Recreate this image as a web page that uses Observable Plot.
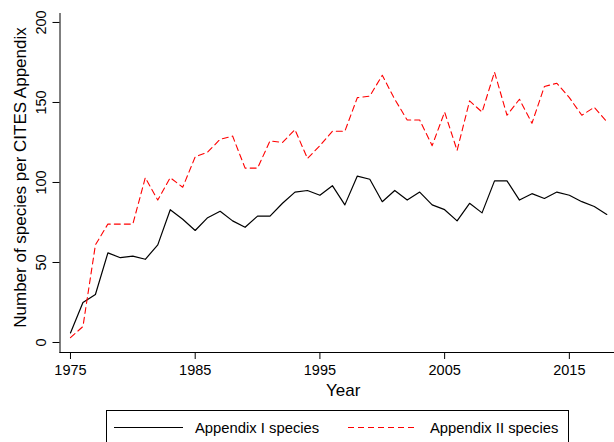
<!DOCTYPE html>
<html><head><meta charset="utf-8">
<script src="https://cdn.jsdelivr.net/npm/d3@7"></script>
<script src="https://cdn.jsdelivr.net/npm/@observablehq/plot@0.6"></script>
<style>
html,body{margin:0;padding:0;overflow:hidden;background:#fff}
#wrap{position:relative;width:614px;height:442px;overflow:hidden;font-family:"Liberation Sans",Arial,sans-serif}
#chart{position:absolute;left:0;top:0}
#legend{position:absolute;left:106px;top:410px;width:463px;height:60px;border:1px solid #000;box-sizing:border-box}
</style></head>
<body><div id="wrap"><div id="chart"></div><div id="legend"></div></div>
<script>
const years = [1975,1976,1977,1978,1979,1980,1981,1982,1983,1984,
  1985,1986,1987,1988,1989,1990,1991,1992,1993,1994,
  1995,1996,1997,1998,1999,2000,2001,2002,2003,2004,
  2005,2006,2007,2008,2009,2010,2011,2012,2013,2014,
  2015,2016,2017,2018];
const appendixI = [6,25,30,56,53,54,52,61,83,77,
  70,78,82,76,72,79,79,87,94,95,
  92,98,86,104,102,88,95,89,94,86,
  83,76,87,81,101,101,89,93,90,94,
  92,88,85,80];
const appendixII = [3,10,61,74,74,74,103,89,103,97,
  116,119,127,129,109,109,126,125,133,115,
  123,132,132,153,154,167,152,139,139,123,
  144,120,151,144,169,142,152,137,160,162,
  153,142,147,138];
const xTicks = [1975,1985,1995,2005,2015];
const yTicks = [0,50,100,150,200];
const xTitle = "Year";
const yTitle = "Number of species per CITES Appendix";
const seriesNames = ["Appendix I species","Appendix II species"];

const rowsI = years.map((y,i)=>({year:y, value:appendixI[i]}));
const rowsII = years.map((y,i)=>({year:y, value:appendixII[i]}));
const font = '"Liberation Sans", Arial, sans-serif';

const chart = Plot.plot({
  width: 614, height: 405,
  marginLeft: 59.5, marginRight: 0, marginTop: 13, marginBottom: 53,
  style: {fontFamily: font, fontSize: "14.5px", background: "transparent", color: "#000", overflow: "visible"},
  x: {domain: [1974.16, 2018.62]},
  y: {domain: [-6.25, 205.6]},
  marks: [
    Plot.frame({anchor: "left", stroke: "#000"}),
    Plot.frame({anchor: "bottom", stroke: "#000"}),
    Plot.axisX(xTicks, {tickSize: 7, tickPadding: 5, label: null, tickFormat: d => String(d), fontSize: 14.5}),
    Plot.axisY(yTicks, {tickSize: 7, label: null, tickFormat: () => ""}),
    Plot.text(yTicks, {y: d => d, frameAnchor: "left", textAnchor: "middle", dx: -18.5, rotate: -90, text: d => String(d), fontSize: 14.5}),
    Plot.text([xTitle], {frameAnchor: "bottom", textAnchor: "middle", dy: 43, dx: 6, text: d => d, fontSize: 17}),
    Plot.text([yTitle], {frameAnchor: "left", textAnchor: "middle", dx: -39.5, dy: -5.5, rotate: -90, text: d => d, fontSize: 17}),
    Plot.line(rowsI, {x: "year", y: "value", stroke: "#000", strokeWidth: 1.2}),
    Plot.line(rowsII, {x: "year", y: "value", stroke: "#ff0000", strokeWidth: 1.1, strokeDasharray: "6,4"})
  ]
});
document.getElementById("chart").appendChild(chart);

const lg = d3.select("#legend").append("svg").attr("width", 461).attr("height", 40)
  .style("font-family", font).style("font-size", "14.8px");
lg.append("line").attr("x1", 7).attr("x2", 76).attr("y1", 16.5).attr("y2", 16.5)
  .attr("stroke", "#000").attr("stroke-width", 1.2);
lg.append("text").attr("x", 88).attr("y", 21.5).text(seriesNames[0]);
lg.append("line").attr("x1", 241).attr("x2", 311).attr("y1", 16.5).attr("y2", 16.5)
  .attr("stroke", "#ff0000").attr("stroke-width", 1.1).attr("stroke-dasharray", "6,4");
lg.append("text").attr("x", 323).attr("y", 21.5).text(seriesNames[1]);
</script>
</body></html>
